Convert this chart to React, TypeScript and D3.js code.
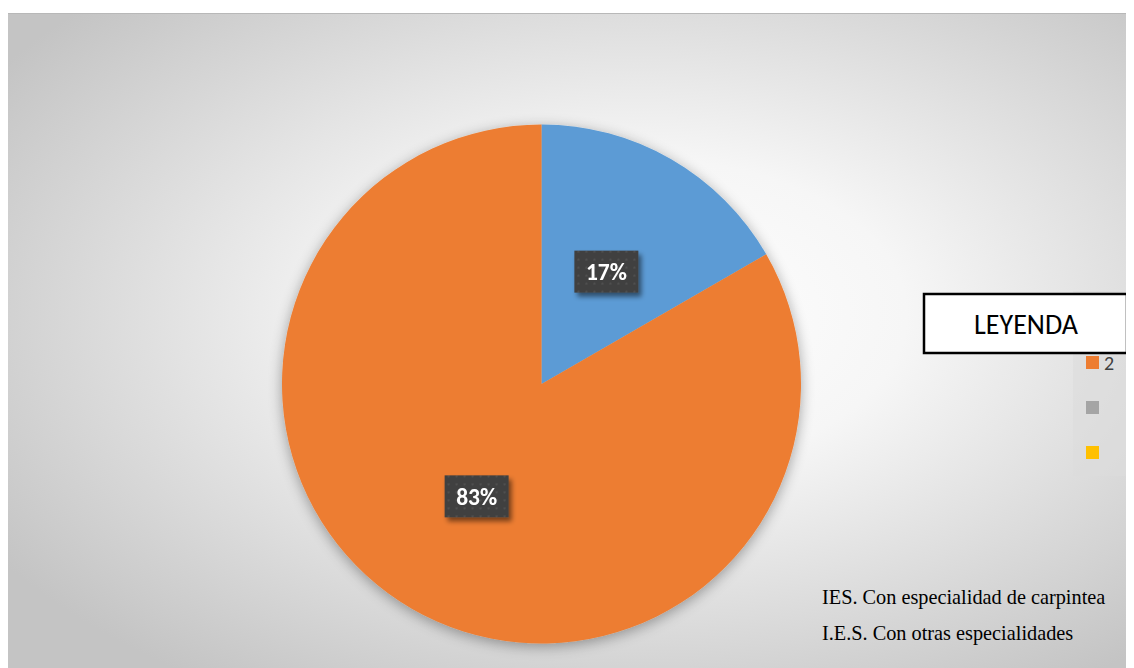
import React from "react";
import * as d3 from "d3";

const categories = ["IES. Con especialidad de carpintea", "I.E.S. Con otras especialidades"];
const values = [1, 5];
const sliceColors = ["#5b9bd5", "#ed7d31"];
const legendLabels = ["2", "", ""];
const legendColors = ["#ed7d31", "#a5a5a5", "#ffc000"];

export default function App() {
  const W = 1126;
  const H = 655;
  const cx = 533.5;
  const cy = 371;
  const r = 259.5;
  const pie = d3.pie<number>().sort(null).value((d) => d);
  const arcs = pie(values);
  const arcGen = d3.arc<d3.PieArcDatum<number>>().innerRadius(0).outerRadius(r);
  const total = d3.sum(values);
  const fmt = d3.format(".0%");
  const labelR = [0.5, 0.5];
  return (
    <svg width={W} height={H} style={{ display: "block", marginTop: 5 }} fontFamily="Calibri, Carlito, Lato, 'Open Sans', sans-serif">
      <defs>
        <radialGradient id="bg" cx="56%" cy="46%" r="68%">
          <stop offset="0%" stopColor="#ffffff" />
          <stop offset="35%" stopColor="#f6f6f6" />
          <stop offset="100%" stopColor="#c4c4c4" />
        </radialGradient>
        <filter id="pieShadow" x="-20%" y="-20%" width="140%" height="140%">
          <feGaussianBlur in="SourceAlpha" stdDeviation="7" />
          <feOffset dx="0" dy="3" result="b" />
          <feComponentTransfer>
            <feFuncA type="linear" slope="0.35" />
          </feComponentTransfer>
          <feMerge>
            <feMergeNode />
            <feMergeNode in="SourceGraphic" />
          </feMerge>
        </filter>
        <filter id="lblShadow" x="-30%" y="-30%" width="160%" height="160%">
          <feGaussianBlur in="SourceAlpha" stdDeviation="2.5" />
          <feOffset dx="3" dy="4" result="b" />
          <feComponentTransfer>
            <feFuncA type="linear" slope="0.5" />
          </feComponentTransfer>
          <feMerge>
            <feMergeNode />
            <feMergeNode in="SourceGraphic" />
          </feMerge>
        </filter>
        <pattern id="dots" width="8" height="8" patternUnits="userSpaceOnUse">
          <rect width="8" height="8" fill="#404040" />
          <rect x="3" y="3" width="2" height="2" fill="#4f4f4f" />
        </pattern>
      </defs>
      <rect x={0} y={0} width={W} height={H} fill="url(#bg)" />
      <line x1={0} y1={0.5} x2={W} y2={0.5} stroke="#b8b8b8" />
      <g transform={`translate(${cx},${cy})`} filter="url(#pieShadow)">
        {arcs.map((a, i) => (
          <path key={i} d={arcGen(a) || ""} fill={sliceColors[i]} />
        ))}
      </g>
      {arcs.map((a, i) => {
        const [x, y] = arcGen.centroid(a);
        const k = (labelR[i] * r) / Math.hypot(x, y);
        const lx = cx + x * k;
        const ly = cy + y * k;
        return (
          <g key={i} transform={`translate(${lx},${ly})`} filter="url(#lblShadow)">
            <rect x={-32} y={-21} width={64} height={42} fill="url(#dots)" />
            <text x={0} y={8.5} textAnchor="middle" fill="#fff" fontWeight="bold" fontSize={23.5}>
              {fmt(a.data / total)}
            </text>
          </g>
        );
      })}
      <rect x={1065} y={278} width={55} height={185} fill="#dcdcdc" opacity={0.6} />
      <rect x={916} y={281} width={203} height={59} fill="#fff" stroke="#000" strokeWidth={2.5} />
      <text x={1018} y={321} textAnchor="middle" fontSize={28} fill="#000">LEYENDA</text>
      {legendColors.map((c, i) => (
        <g key={i} transform={`translate(1078,${343 + i * 45})`}>
          <rect x={0} y={0} width={13} height={13} fill={c} />
          <text x={18} y={14} fontSize={20} fill="#404040">{legendLabels[i]}</text>
        </g>
      ))}
      {categories.map((c, i) => (
        <text key={i} x={814} y={591 + i * 36} fontFamily="'Liberation Serif', 'Times New Roman', serif" fontSize={20.3} fill="#000">
          {c}
        </text>
      ))}
    </svg>
  );
}
